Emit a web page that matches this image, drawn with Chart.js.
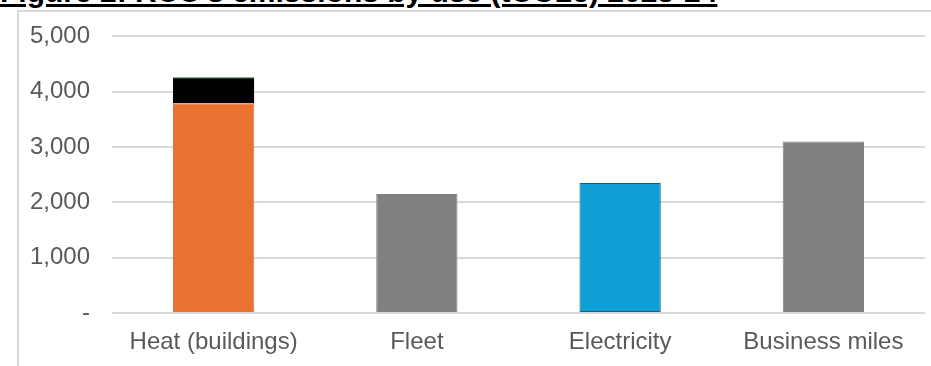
<!DOCTYPE html>
<html>
<head>
<meta charset="utf-8">
<script src="https://cdn.jsdelivr.net/npm/chart.js@4/dist/chart.umd.min.js"></script>
<style>
  html, body { margin: 0; padding: 0; background: #fff; }
  body { width: 931px; height: 366px; position: relative; overflow: hidden; font-family: "Liberation Sans", Arial, sans-serif; }
  #title { position: absolute; left: 0; top: -25px; font-weight: bold; font-size: 30px; color: #000; text-decoration: underline; white-space: nowrap; }
  #frame { position: absolute; left: 17px; top: 10px; width: 940px; height: 400px; border: 2px solid #d9d9d9; box-sizing: border-box; }
  #wrap { position: absolute; left: 0; top: 0; width: 931px; height: 366px; }
</style>
</head>
<body>
<div id="frame"></div>
<div id="title">Figure 2: RCC's emissions by use (tCO2e) 2023-24</div>
<div id="wrap"><canvas id="c" width="931" height="366"></canvas></div>
<script>
// Emissions by use, tCO2e
const categories = ["Heat (buildings)", "Fleet", "Electricity", "Business miles"];
const mainValues = [3790, 2150, 2350, 3100];
const extraHeatValues = [470, 0, 0, 0];
const yTicks = [0, 1000, 2000, 3000, 4000, 5000];

const barColors = ["#E97132", "#808080", "#0F9ED5", "#808080"];
const barBorders = ["#E97132", "#808080", "#156082", "#808080"];

new Chart(document.getElementById("c"), {
  type: "bar",
  data: {
    labels: categories,
    datasets: [
      {
        data: mainValues,
        backgroundColor: barColors,
        borderColor: barBorders,
        borderWidth: 1,
        borderSkipped: false,
        barPercentage: 0.4,
        categoryPercentage: 1
      },
      {
        data: extraHeatValues,
        backgroundColor: "#000000",
        borderColor: "#1E6B2E",
        borderWidth: { top: 1, left: 0, right: 0, bottom: 0 },
        borderSkipped: false,
        barPercentage: 0.4,
        categoryPercentage: 1
      }
    ]
  },
  options: {
    responsive: false,
    animation: false,
    layout: { padding: { left: 0, right: 6, top: 32, bottom: 0 } },
    plugins: { legend: { display: false }, tooltip: { enabled: false } },
    scales: {
      x: {
        stacked: true,
        afterFit: (axis) => { axis.height = 53; },
        grid: { display: false, drawTicks: false },
        border: { display: false },
        ticks: { color: "#595959", font: { family: "Liberation Sans", size: 24 }, padding: 15 }
      },
      y: {
        stacked: true,
        min: 0,
        max: 5000,
        afterBuildTicks: (axis) => { axis.ticks = yTicks.map(v => ({ value: v })); },
        afterFit: (axis) => { axis.width = 112; },
        grid: { color: "#d9d9d9", lineWidth: 2, drawTicks: false },
        border: { display: false },
        ticks: {
          color: "#595959",
          font: { family: "Liberation Sans", size: 24 },
          padding: 22,
          callback: (v) => v === 0 ? "-" : v.toLocaleString("en-GB")
        }
      }
    }
  }
});
</script>
</body>
</html>
